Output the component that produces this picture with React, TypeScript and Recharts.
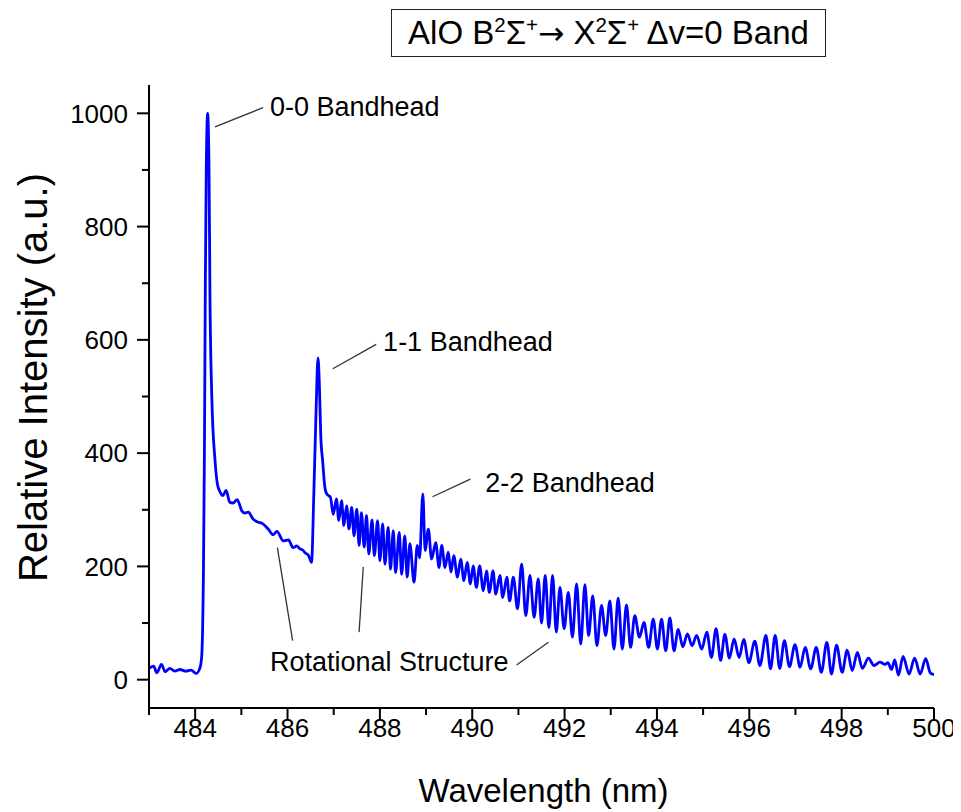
import { LineChart, Line, XAxis, YAxis, ReferenceLine, ReferenceDot } from 'recharts';

// AlO B-X (0,0) sequence emission spectrum, peaks and troughs
const wavelength = [
  483.00, 483.10, 483.17, 483.27, 483.35, 483.45, 483.56, 483.67, 483.80, 483.91,
  484.02, 484.10, 484.14, 484.18, 484.20, 484.22, 484.24, 484.27, 484.30, 484.32,
  484.36, 484.43, 484.48, 484.54, 484.60, 484.67, 484.75, 484.82, 484.91, 485.01,
  485.08, 485.15, 485.25, 485.37, 485.45, 485.58, 485.69, 485.77, 485.91, 486.02,
  486.12, 486.20, 486.27, 486.33, 486.38, 486.45, 486.48, 486.52, 486.57, 486.62,
  486.66, 486.69, 486.72, 486.76, 486.81, 486.85, 486.93, 486.99, 487.06, 487.11,
  487.17, 487.22, 487.28, 487.33, 487.39, 487.44, 487.50, 487.55, 487.60, 487.66,
  487.71, 487.76, 487.83, 487.88, 487.95, 488.00, 488.06, 488.11, 488.18, 488.23,
  488.29, 488.34, 488.42, 488.47, 488.54, 488.59, 488.65, 488.74, 488.81, 488.86,
  488.93, 488.98, 489.05, 489.12, 489.21, 489.28, 489.34, 489.41, 489.48, 489.54,
  489.60, 489.68, 489.75, 489.82, 489.89, 489.96, 490.02, 490.09, 490.16, 490.24,
  490.31, 490.37, 490.45, 490.51, 490.60, 490.66, 490.75, 490.81, 490.89, 490.98,
  491.07, 491.16, 491.25, 491.34, 491.43, 491.50, 491.58, 491.66, 491.74, 491.82,
  491.90, 491.99, 492.08, 492.17, 492.26, 492.35, 492.44, 492.52, 492.61, 492.70,
  492.80, 492.89, 492.98, 493.07, 493.16, 493.25, 493.34, 493.43, 493.52, 493.62,
  493.72, 493.82, 493.92, 494.01, 494.10, 494.19, 494.28, 494.37, 494.46, 494.56,
  494.66, 494.76, 494.86, 494.97, 495.08, 495.18, 495.28, 495.38, 495.47, 495.57,
  495.67, 495.78, 495.88, 495.99, 496.12, 496.23, 496.36, 496.46, 496.56, 496.66,
  496.76, 496.87, 496.99, 497.10, 497.21, 497.33, 497.45, 497.56, 497.68, 497.78,
  497.89, 498.01, 498.12, 498.23, 498.34, 498.45, 498.58, 498.70, 498.83, 498.94,
  499.00, 499.08, 499.15, 499.23, 499.33, 499.46, 499.58, 499.70, 499.82, 499.92,
  500.00,
];

const intensity = [
  20, 24, 12, 27, 14, 20, 15, 18, 15, 17,
  11, 20, 40, 200, 400, 700, 900, 1000, 900, 680,
  500, 387, 346, 331, 325, 334, 313, 312, 318, 298,
  294, 296, 284, 278, 276, 266, 256, 262, 245, 247,
  233, 236, 231, 229, 224, 220, 214, 207, 330, 480,
  568, 520, 430, 387, 339, 328, 322, 292, 319, 281,
  316, 272, 307, 266, 304, 254, 301, 237, 295, 234,
  290, 222, 282, 219, 281, 210, 275, 204, 269, 195,
  263, 189, 260, 186, 254, 181, 240, 172, 237, 215,
  328, 228, 266, 213, 242, 198, 237, 198, 225, 190,
  219, 181, 213, 175, 207, 169, 201, 163, 201, 157,
  192, 154, 192, 151, 184, 145, 181, 139, 181, 125,
  204, 113, 184, 110, 178, 100, 184, 92, 184, 84,
  163, 90, 154, 75, 169, 63, 168, 78, 148, 60,
  131, 78, 139, 54, 144, 54, 132, 57, 113, 75,
  101, 57, 107, 54, 107, 51, 109, 51, 89, 58,
  81, 60, 78, 54, 84, 39, 90, 34, 80, 38,
  72, 39, 71, 30, 68, 25, 78, 19, 78, 20,
  69, 23, 62, 22, 57, 19, 57, 13, 66, 10,
  61, 13, 52, 16, 48, 20, 38, 25, 31, 27,
  30, 18, 35, 8, 41, 10, 38, 10, 37, 12,
  9,
];

const xTicks = [483, 484, 485, 486, 487, 488, 489, 490, 491, 492, 493, 494, 495, 496, 497, 498, 499, 500];
const yTicks = [0, 100, 200, 300, 400, 500, 600, 700, 800, 900, 1000];

const data = wavelength.map((wl, i) => ({ wl, intensity: intensity[i] }));

const FONT = 'Arial, "Liberation Sans", sans-serif';

const XTick = (props: any) => {
  const { x, y, payload } = props;
  const major = payload.value % 2 === 0;
  return (
    <g>
      <line x1={x} y1={y} x2={x} y2={y + (major ? 12 : 7)} stroke="#000" strokeWidth={2} />
      {major && (
        <text x={x} y={y + 29} textAnchor="middle" fontSize={26} fontFamily={FONT} fill="#000">
          {payload.value}
        </text>
      )}
    </g>
  );
};

const YTick = (props: any) => {
  const { x, y, payload } = props;
  const major = payload.value % 200 === 0;
  return (
    <g>
      <line x1={x - (major ? 12 : 7)} y1={y} x2={x} y2={y} stroke="#000" strokeWidth={2} />
      {major && (
        <text x={x - 21} y={y} dy="0.36em" textAnchor="end" fontSize={26} fontFamily={FONT} fill="#000">
          {payload.value}
        </text>
      )}
    </g>
  );
};

const XTitle = ({ viewBox }: any) => {
  const vb = viewBox ?? { x: 141, y: 700, width: 785, height: 104 };
  return (
    <text x={vb.x + vb.width / 2 + 2} y={vb.y + 94} textAnchor="middle" fontSize={33} fontFamily={FONT} fill="#000">
      Wavelength (nm)
    </text>
  );
};

const YTitle = ({ viewBox }: any) => {
  const vb = viewBox ?? { x: 0, y: 77, width: 141, height: 623 };
  const cx = vb.x + 25;
  const cy = vb.y + vb.height / 2 - 19;
  return (
    <text
      x={cx}
      y={cy}
      transform={`rotate(-90 ${cx} ${cy})`}
      textAnchor="middle"
      dy="0.36em"
      fontSize={40}
      fontFamily={FONT}
      fill="#000"
    >
      Relative Intensity (a.u.)
    </text>
  );
};

const textShape = (label: string) => (p: any) => (
  <text x={p.cx} y={p.cy} dy="0.36em" fontSize={27} fontFamily={FONT} fill="#000">
    {label}
  </text>
);

const leaderStyle = { stroke: '#333', strokeWidth: 1.3 };
const sup = { fontSize: '0.62em', position: 'relative' as const, top: '-0.6em' };

export default function App() {
  return (
    <div style={{ position: 'relative', width: 953, height: 804 }}>
      <LineChart width={953} height={804} data={data} margin={{ top: 77, right: 27, bottom: 0, left: 0 }}>
        <XAxis
          dataKey="wl"
          type="number"
          domain={[483, 500]}
          ticks={xTicks}
          allowDataOverflow
          interval={0}
          height={104}
          tickSize={0}
          tickMargin={0}
          tickLine={false}
          axisLine={{ stroke: '#000', strokeWidth: 2 }}
          tick={<XTick />}
          label={<XTitle />}
        />
        <YAxis
          type="number"
          domain={[-50, 1050]}
          ticks={yTicks}
          allowDataOverflow
          interval={0}
          width={141}
          tickSize={0}
          tickMargin={0}
          tickLine={false}
          axisLine={{ stroke: '#000', strokeWidth: 2 }}
          tick={<YTick />}
          label={<YTitle />}
        />
        <Line
          type="monotone"
          dataKey="intensity"
          stroke="#0000ff"
          strokeWidth={2.8}
          dot={false}
          activeDot={false}
          isAnimationActive={false}
        />

        <ReferenceLine segment={[{ x: 484.43, y: 976 }, { x: 485.47, y: 1010 }]} {...leaderStyle} ifOverflow="visible" />
        <ReferenceDot x={485.62} y={1013} r={0} shape={textShape('0-0 Bandhead')} ifOverflow="visible" />

        <ReferenceLine segment={[{ x: 486.98, y: 549 }, { x: 487.92, y: 592 }]} {...leaderStyle} ifOverflow="visible" />
        <ReferenceDot x={488.07} y={598} r={0} shape={textShape('1-1 Bandhead')} ifOverflow="visible" />

        <ReferenceLine segment={[{ x: 489.14, y: 323 }, { x: 489.96, y: 354 }]} {...leaderStyle} ifOverflow="visible" />
        <ReferenceDot x={490.28} y={348} r={0} shape={textShape('2-2 Bandhead')} ifOverflow="visible" />

        <ReferenceLine segment={[{ x: 485.78, y: 233 }, { x: 486.11, y: 69 }]} {...leaderStyle} ifOverflow="visible" />
        <ReferenceLine segment={[{ x: 487.64, y: 199 }, { x: 487.55, y: 84 }]} {...leaderStyle} ifOverflow="visible" />
        <ReferenceLine segment={[{ x: 490.96, y: 26 }, { x: 491.65, y: 66 }]} {...leaderStyle} ifOverflow="visible" />
        <ReferenceDot x={485.62} y={33} r={0} shape={textShape('Rotational Structure')} ifOverflow="visible" />
      </LineChart>

      <div
        style={{
          position: 'absolute',
          left: 383,
          top: 1,
          width: 433,
          height: 46,
          border: '1.5px solid #222',
          fontFamily: FONT,
          fontSize: 33,
          color: '#000',
          display: 'flex',
          alignItems: 'center',
          justifyContent: 'center',
          whiteSpace: 'nowrap',
          background: '#fff',
        }}
      >
        <span>
          AlO B<span style={sup}>2</span>Σ<span style={sup}>+</span>
          <span style={{ fontFamily: '"DejaVu Sans", sans-serif', fontSize: '0.95em' }}>→</span> X
          <span style={sup}>2</span>Σ<span style={sup}>+</span> Δv=0 Band
        </span>
      </div>
    </div>
  );
}
